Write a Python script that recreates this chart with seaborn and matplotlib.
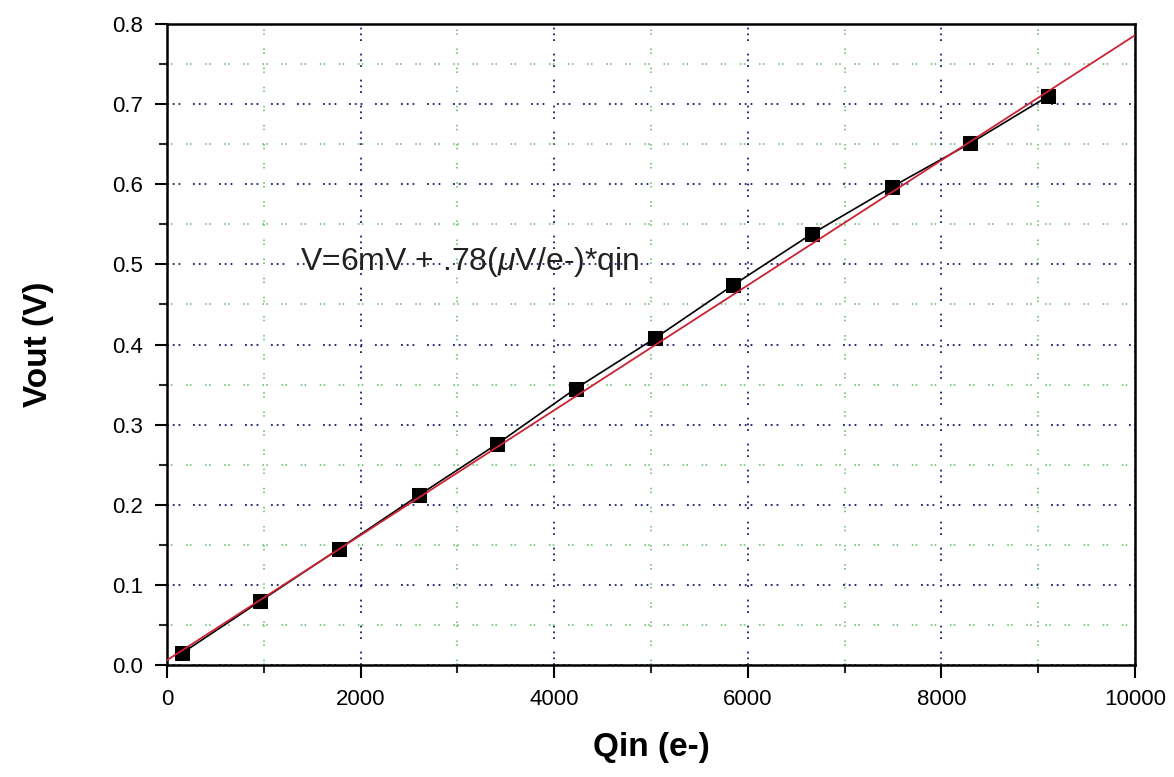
import matplotlib
matplotlib.use("Agg")
import matplotlib.pyplot as plt
import seaborn as sns
import pandas as pd
from matplotlib.ticker import MultipleLocator

# ---- data ----
qin = [158, 966, 1777, 2603, 3412, 4222, 5044, 5847, 6660, 7493, 8295, 9104]
vout = [0.015, 0.080, 0.145, 0.212, 0.276, 0.345, 0.408, 0.474, 0.538, 0.597, 0.651, 0.710]
fit_x = [0, 10000]
fit_y = [0.006, 0.786]
fit_label = "V=6mV + .78($\\mu$V/e-)*qin"
x_label = "Qin (e-)"
y_label = "Vout (V)"

sns.set_style("white")
plt.rcParams['font.family'] = ['Liberation Sans', 'DejaVu Sans']
plt.rcParams['mathtext.fontset'] = 'custom'
plt.rcParams['mathtext.it'] = 'Liberation Sans:italic'
plt.rcParams['mathtext.rm'] = 'Liberation Sans'

fig = plt.figure(figsize=(11.74, 7.77), dpi=100)
ax = fig.add_axes([0.1422, 0.1441, 0.9668 - 0.1422, 0.9691 - 0.1441])

df = pd.DataFrame({"qin": qin, "vout": vout})
fit = pd.DataFrame({"x": fit_x, "y": fit_y})

# grid
ax.set_xlim(0, 10000)
ax.set_ylim(0, 0.8)
ax.xaxis.set_major_locator(MultipleLocator(2000))
ax.xaxis.set_minor_locator(MultipleLocator(1000))
ax.yaxis.set_major_locator(MultipleLocator(0.1))
ax.yaxis.set_minor_locator(MultipleLocator(0.05))
ax.grid(which='major', color='#1a1a6e', linestyle=(0, (1, 2.2, 1, 2.2, 1, 7)), linewidth=1.3)
ax.grid(which='minor', color='#5cb85c', linestyle=(0, (1, 1.5, 1, 9)), linewidth=1.1)
ax.set_axisbelow(True)

sns.lineplot(data=df, x="qin", y="vout", ax=ax, color='black', linewidth=1.2,
             marker='s', markersize=10, markerfacecolor='black',
             markeredgecolor='black', zorder=3)
sns.lineplot(data=fit, x="x", y="y", ax=ax, color='#cc2233', linewidth=1.3, zorder=4)

ax.text(1370, 0.503, fit_label, fontsize=23, va='center', ha='left', color='#222222')

for s in ax.spines.values():
    s.set_visible(True)
    s.set_color('black')
    s.set_linewidth(1.8)

ax.tick_params(which='major', direction='out', length=9, width=1.5, labelsize=16,
               colors='black', bottom=True, left=True, pad=8)
ax.tick_params(which='minor', direction='out', length=6, width=1.5,
               bottom=True, left=True)
ax.set_xticklabels([str(int(v)) for v in ax.get_xticks()])
ax.set_yticklabels([f"{v:.1f}" for v in ax.get_yticks()])

ax.set_xlabel(x_label, fontsize=24, fontweight='bold', labelpad=16, color='black')
ax.set_ylabel(y_label, fontsize=24, fontweight='bold', labelpad=42, color='black')

fig.savefig("out.png", dpi=100)
